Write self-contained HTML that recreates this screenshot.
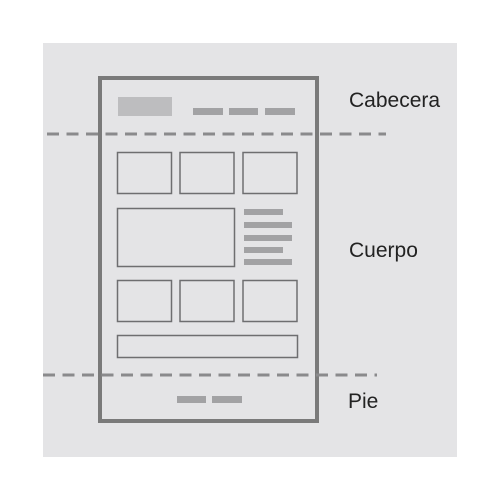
<!DOCTYPE html>
<html><head><meta charset="utf-8"><style>
html,body{margin:0;padding:0;background:#fff;width:500px;height:500px;overflow:hidden}
text{font-family:"Liberation Sans",sans-serif;font-size:21px;fill:#222}
</style></head><body>
<svg width="500" height="500" viewBox="0 0 500 500">
<rect x="43" y="43" width="414" height="414" fill="#e4e4e6"/>
<rect x="100" y="78" width="217" height="343" fill="none" stroke="#7a7a7a" stroke-width="4"/>
<rect x="118" y="97" width="54" height="19" fill="#bdbdbf"/>
<g fill="#a2a2a4">
<rect x="193" y="108" width="30" height="7"/><rect x="229" y="108" width="29" height="7"/><rect x="265" y="108" width="30" height="7"/>
</g>
<line x1="47" y1="134" x2="386" y2="134" stroke="#8a8a8c" stroke-width="3" stroke-dasharray="12,7.5"/>
<g fill="none" stroke="#6e6e70" stroke-width="1.5">
<rect x="117.5" y="152.5" width="54" height="41"/><rect x="180" y="152.5" width="54" height="41"/><rect x="243" y="152.5" width="54" height="41"/>
<rect x="117.5" y="208.5" width="117" height="58"/>
<rect x="117.5" y="280.5" width="54" height="41"/><rect x="180" y="280.5" width="54" height="41"/><rect x="243" y="280.5" width="54" height="41"/>
<rect x="117.5" y="335.5" width="180" height="22"/>
</g>
<g fill="#a2a2a4">
<rect x="244" y="209" width="39" height="6"/><rect x="244" y="222" width="48" height="6"/><rect x="244" y="235" width="48" height="6"/><rect x="244" y="247" width="39" height="6"/><rect x="244" y="259" width="48" height="6"/>
</g>
<line x1="43" y1="375" x2="377" y2="375" stroke="#8a8a8c" stroke-width="3" stroke-dasharray="12,7.5"/>
<g fill="#a2a2a4">
<rect x="177" y="396" width="29" height="7"/><rect x="212" y="396" width="30" height="7"/>
</g>
<text x="349" y="107">Cabecera</text>
<text x="349" y="257">Cuerpo</text>
<text x="348" y="408">Pie</text>
</svg>
</body></html>
